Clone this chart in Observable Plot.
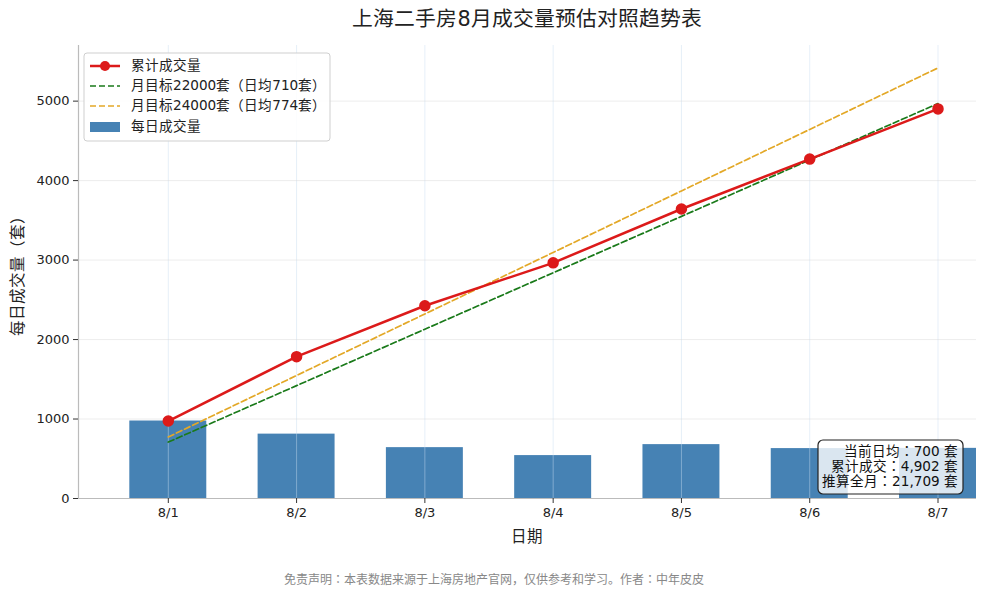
<!DOCTYPE html>
<html>
<head>
<meta charset="utf-8">
<script src="https://cdn.jsdelivr.net/npm/d3@7"></script>
<script src="https://cdn.jsdelivr.net/npm/@observablehq/plot@0.6"></script>
<style>
  @font-face {
    font-family: "CJKPart";
    src: local("Noto Sans CJK JP"), local("Noto Sans CJK JP Regular"), local("NotoSansCJKjp-Regular");
    unicode-range: U+FF1A, U+FF08, U+FF09;
  }
  @font-face {
    font-family: "CJKPart";
    src: local("Noto Sans CJK SC"), local("Noto Sans CJK SC Regular"), local("NotoSansCJKsc-Regular"), local("NotoSansCJKSC-Regular");
    unicode-range: U+3000-303F, U+3400-4DBF, U+4E00-9FFF, U+FF00-FF07, U+FF0A-FF19, U+FF1B-FFEF;
  }
  html, body { margin: 0; padding: 0; background: #fff; }
  body { width: 987px; font-family: "CJKPart", "DejaVu Sans", "Noto Sans CJK SC", sans-serif; }
  #title { height: 40px; box-sizing: border-box; padding: 6px 11px 0 78px; text-align: center; font-size: 20.8px; color: #222; line-height: 26px; }
  #chart { height: 520px; }
  #caption { height: 40px; text-align: center; font-size: 12px; color: #888; line-height: 40px; }
</style>
</head>
<body>
<div id="title">上海二手房8月成交量预估对照趋势表</div>
<div id="chart"></div>
<div id="caption">免责声明：本表数据来源于上海房地产官网，仅供参考和学习。作者：中年皮皮</div>
<script>
const days = ["8/1", "8/2", "8/3", "8/4", "8/5", "8/6", "8/7"];
const dailyVolume = [975, 810, 640, 540, 678, 628, 631];
const cumulativeVolume = [975, 1785, 2425, 2965, 3643, 4271, 4902];
const target22000 = [710, 1420, 2130, 2840, 3550, 4260, 4970];
const target24000 = [774, 1548, 2322, 3096, 3870, 4644, 5418];
const yTicks = [0, 1000, 2000, 3000, 4000, 5000];
const legendLabels = ["累计成交量", "月目标22000套（日均710套）", "月目标24000套（日均774套）", "每日成交量"];
const noteLines = ["当前日均：700 套", "累计成交：4,902 套", "推算全月：21,709 套"];

const rows = days.map((d, i) => ({
  i: i + 1, day: d, daily: dailyVolume[i], cum: cumulativeVolume[i],
  t22: target22000[i], t24: target24000[i]
}));
const idx = rows.map(r => r.i);

const RED = "#dc1a1a", GREEN = "#1a7a1a", GOLD = "#e3a827", BLUE = "#4682b4";
const FONT = "'CJKPart', 'DejaVu Sans', 'Noto Sans CJK SC', sans-serif";

const W = 987, H = 520, ML = 78, MR = 11, MT = 5, MB = 62;

const chart = Plot.plot({
  width: W, height: H,
  marginLeft: ML, marginRight: MR, marginTop: MT, marginBottom: MB,
  style: { fontFamily: FONT, fontSize: "13px", background: "white", color: "#222" },
  x: { type: "linear", domain: [0.3, 7.3], label: null },
  y: { domain: [0, 5700], label: null },
  marks: [
    Plot.rectY(rows, { x1: d => d.i - 0.3, x2: d => d.i + 0.3, y1: 0, y2: "daily", fill: BLUE }),
    Plot.gridX(idx, { stroke: "#c8dcf0", strokeOpacity: 0.45 }),
    Plot.gridY(yTicks, { stroke: "#d8d8d8", strokeOpacity: 0.45 }),
    Plot.lineY(rows, { x: "i", y: "t24", stroke: GOLD, strokeWidth: 1.7, strokeDasharray: "6,3" }),
    Plot.lineY(rows, { x: "i", y: "t22", stroke: GREEN, strokeWidth: 1.7, strokeDasharray: "6,3" }),
    Plot.lineY(rows, { x: "i", y: "cum", stroke: RED, strokeWidth: 2.5 }),
    Plot.dot(rows, { x: "i", y: "cum", r: 5, fill: RED, stroke: RED }),
    Plot.ruleY([0], { stroke: "#bbbbbb", strokeWidth: 1.2 }),
    Plot.ruleX([0.3], { stroke: "#bbbbbb", strokeWidth: 1.2 }),
    Plot.axisX(idx, { tickFormat: i => days[i - 1], tickSize: 5, tickPadding: 4, fontSize: 13, label: null, stroke: "#333" }),
    Plot.axisY(yTicks, { tickSize: 5, tickPadding: 4, fontSize: 13, label: null, stroke: "#333", tickFormat: d => String(d) })
  ]
});
document.getElementById("chart").appendChild(chart);

const svg = d3.select(chart);
const cx = (ML + (W - MR)) / 2;

function txt(g, x, y, s, size, anchor, fill) {
  return g.append("text").attr("x", x).attr("y", y).attr("text-anchor", anchor)
    .attr("dominant-baseline", "middle").style("font-size", size + "px").style("font-family", FONT)
    .attr("fill", fill).text(s);
}

// axis labels
txt(svg, cx, 497, "日期", 15.5, "middle", "#222");
svg.append("text").attr("transform", `translate(18, ${(MT + (H - MB)) / 2}) rotate(-90)`).attr("text-anchor", "middle")
  .attr("dominant-baseline", "middle").style("font-size", "15.5px").style("font-family", FONT).attr("fill", "#222").text("每日成交量（套）");

// legend
const lg = svg.append("g").attr("transform", "translate(84, 13)");
lg.append("rect").attr("width", 246).attr("height", 88).attr("rx", 3)
  .attr("fill", "white").attr("fill-opacity", 0.85).attr("stroke", "#cfcfcf");
const ly = [13, 33, 53, 74];
lg.append("line").attr("x1", 6).attr("x2", 36).attr("y1", ly[0]).attr("y2", ly[0]).attr("stroke", RED).attr("stroke-width", 2.5);
lg.append("circle").attr("cx", 21).attr("cy", ly[0]).attr("r", 5).attr("fill", RED);
lg.append("line").attr("x1", 6).attr("x2", 36).attr("y1", ly[1]).attr("y2", ly[1]).attr("stroke", GREEN).attr("stroke-width", 1.7).attr("stroke-dasharray", "6,3");
lg.append("line").attr("x1", 6).attr("x2", 36).attr("y1", ly[2]).attr("y2", ly[2]).attr("stroke", GOLD).attr("stroke-width", 1.7).attr("stroke-dasharray", "6,3");
lg.append("rect").attr("x", 6).attr("y", ly[3] - 5).attr("width", 30).attr("height", 10).attr("fill", BLUE);
legendLabels.forEach((t, k) => txt(lg, 47, ly[k], t, 13.6, "start", "#222"));

// note box
const nb = svg.append("g").attr("transform", "translate(818, 400)");
nb.append("rect").attr("width", 145).attr("height", 54).attr("rx", 5)
  .attr("fill", "white").attr("fill-opacity", 0.8).attr("stroke", "#222").attr("stroke-width", 1.2);
noteLines.forEach((t, k) => txt(nb, 140, 12 + k * 15, t, 13.6, "end", "#111"));
</script>
</body>
</html>
